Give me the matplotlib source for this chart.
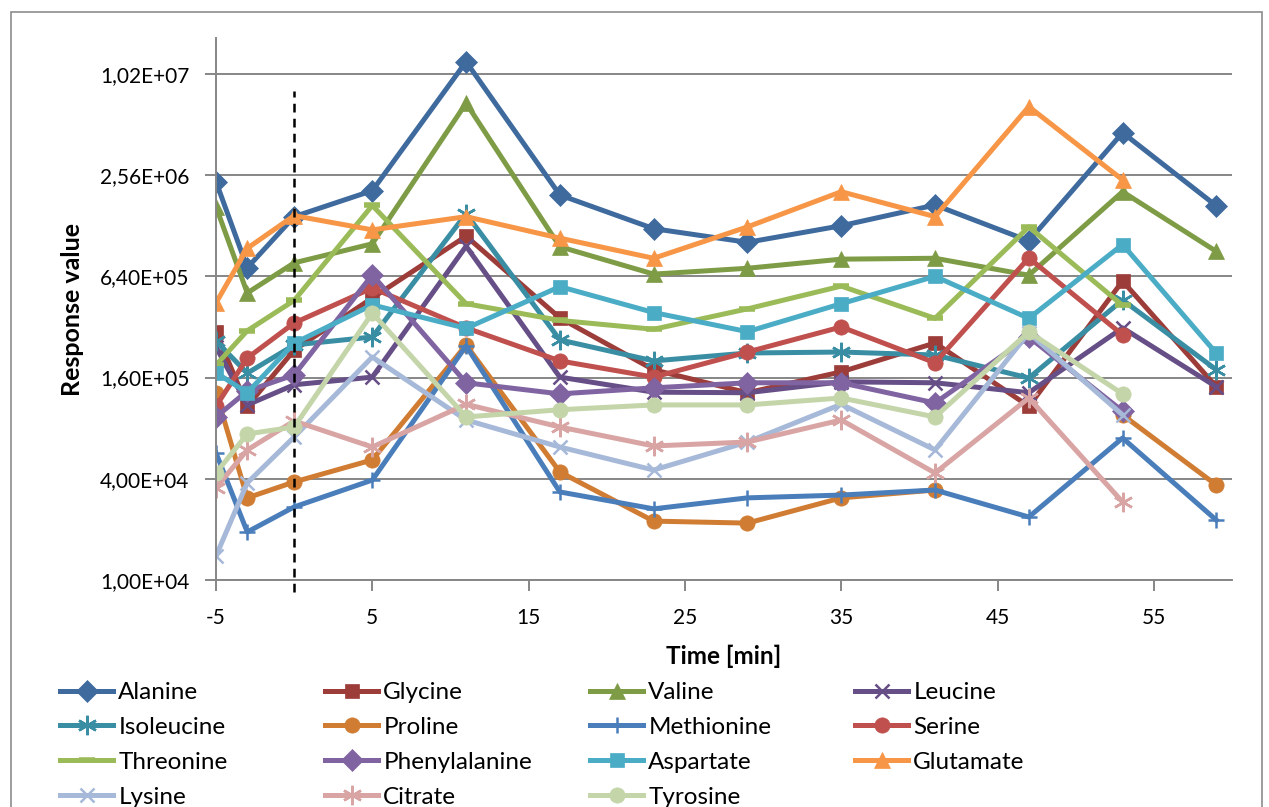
import numpy as np
import matplotlib
matplotlib.use('Agg')
import matplotlib.pyplot as plt
from matplotlib.ticker import FixedLocator, FuncFormatter
from matplotlib.patches import Rectangle
import matplotlib.transforms as mtransforms

plt.rcParams['font.family'] = ['Lato', 'DejaVu Sans']
plt.rcParams['axes.unicode_minus'] = False

# time points [min]
time = [-5, -3, 0, 5, 11, 17, 23, 29, 35, 41, 47, 53, 59]
nan = np.nan

# response values
alanine      = [2.34e6, 7.2e5, 1.45e6, 2.07e6, 1.21e7, 1.95e6, 1.23e6, 1.02e6, 1.28e6, 1.70e6, 1.04e6, 4.58e6, 1.68e6]
glycine      = [2.99e5, 1.08e5, 2.33e5, 4.76e5, 1.11e6, 3.62e5, 1.78e5, 1.30e5, 1.73e5, 2.57e5, 1.08e5, 6.0e5, 1.41e5]
valine       = [1.66e6, 5.1e5, 7.7e5, 1.0e6, 6.86e6, 9.6e5, 6.6e5, 7.15e5, 8.1e5, 8.2e5, 6.5e5, 2.04e6, 9.0e5]
leucine      = [2.43e5, 1.10e5, 1.45e5, 1.61e5, 9.67e5, 1.61e5, 1.31e5, 1.30e5, 1.51e5, 1.49e5, 1.30e5, 3.16e5, 1.41e5]
isoleucine   = [2.64e5, 1.70e5, 2.50e5, 2.79e5, 1.51e6, 2.68e5, 2.01e5, 2.24e5, 2.27e5, 2.18e5, 1.59e5, 4.63e5, 1.78e5]
proline      = [1.30e5, 3.08e4, 3.83e4, 5.18e4, 2.50e5, 4.39e4, 2.24e4, 2.18e4, 3.08e4, 3.43e4, nan, 9.6e4, 3.67e4]
methionine   = [5.70e4, 1.93e4, 2.72e4, 3.93e4, 2.47e5, 3.34e4, 2.65e4, 3.08e4, 3.20e4, 3.43e4, 2.37e4, 6.99e4, 2.27e4]
serine       = [1.08e5, 2.09e5, 3.38e5, 5.46e5, 3.16e5, 2.01e5, 1.61e5, 2.27e5, 3.20e5, 1.96e5, 8.24e5, 2.87e5, nan]
threonine    = [1.9e5, 3.04e5, 4.6e5, 1.69e6, 4.4e5, 3.5e5, 3.1e5, 4.1e5, 5.6e5, 3.6e5, 1.26e6, 4.3e5, nan]
phenylalanine= [9.33e4, 1.33e5, 1.66e5, 6.53e5, 1.49e5, 1.28e5, 1.39e5, 1.49e5, 1.49e5, 1.13e5, 2.79e5, 1.01e5, nan]
aspartate    = [1.71e5, 1.30e5, 2.56e5, 4.33e5, 3.14e5, 5.56e5, 3.9e5, 3.0e5, 4.4e5, 6.4e5, 3.6e5, 9.9e5, 2.23e5]
glutamate    = [4.45e5, 9.4e5, 1.47e6, 1.21e6, 1.45e6, 1.08e6, 8.2e5, 1.26e6, 2.04e6, 1.45e6, 6.54e6, 2.4e6, nan]
lysine       = [1.39e4, 3.78e4, 7.09e4, 2.12e5, 8.95e4, 6.18e4, 4.51e4, 6.62e4, 1.11e5, 5.94e4, 2.95e5, 9.6e4, nan]
citrate      = [3.53e4, 5.94e4, 8.83e4, 6.18e4, 1.11e5, 8.13e4, 6.27e4, 6.62e4, 8.95e4, 4.33e4, 1.21e5, 2.91e4, nan]
tyrosine     = [4.33e4, 7.39e4, 8.13e4, 3.87e5, 9.33e4, 1.03e5, 1.10e5, 1.10e5, 1.21e5, 9.33e4, 2.99e5, 1.28e5, nan]

names = ['Alanine', 'Glycine', 'Valine', 'Leucine', 'Isoleucine', 'Proline', 'Methionine', 'Serine',
         'Threonine', 'Phenylalanine', 'Aspartate', 'Glutamate', 'Lysine', 'Citrate', 'Tyrosine']
series = [alanine, glycine, valine, leucine, isoleucine, proline, methionine, serine,
          threonine, phenylalanine, aspartate, glutamate, lysine, citrate, tyrosine]

y_ticks = [1.0e4, 4.0e4, 1.6e5, 6.4e5, 2.56e6, 1.024e7]
x_ticks = [-5, 5, 15, 25, 35, 45, 55]

colors = ['#3E6A9E', '#9D3D3A', '#7E9B45', '#664E86', '#3A8EA4', '#D07D33', '#4A7EBB', '#C0504D',
          '#9BBB59', '#8064A2', '#4BACC6', '#F79646', '#A7B9D8', '#D9A5A4', '#C4D5A9']
asterisk = (6, 2, 0)
markers = ['D', 's', '^', 'x', asterisk, 'o', '+', 'o', '_', 'D', 's', '^', 'x', asterisk, 'o']
msizes = {'D': 11.5, 's': 10.5, '^': 11.5, 'x': 10.5, 'o': 11, '+': 12, '_': 11}

W, H = 1269, 807
fig = plt.figure(figsize=(W / 100, H / 100), dpi=100)
# chart border
fig.patches.append(Rectangle((11 / W, -0.05), (1262 - 11) / W, 1 - 12 / H + 0.05, transform=fig.transFigure,
                             fill=False, edgecolor='#8C8C8C', linewidth=1.2))

ax = fig.add_axes([216 / W, 1 - 580 / H, (1232 - 216) / W, (580 - 38) / H])

for name, vals, c, m in zip(names, series, colors, markers):
    ms = msizes[m] if isinstance(m, str) else 14
    lined = m in ('x', '+', '_') or not isinstance(m, str)
    ax.plot(time, vals, color=c, lw=3.6, marker=m, ms=ms,
            markerfacecolor=c, markeredgecolor=c,
            markeredgewidth=(4 if m == '_' else 1.8) if lined else 0.5, label=name)

# dashed marker line at t = 0
trans = mtransforms.blended_transform_factory(ax.transData, ax.transAxes)
ax.plot([0, 0], [-0.022, 0.902], transform=trans, color='black', lw=1.8,
        linestyle=(0, (3.5, 2.5)), clip_on=False, zorder=20)

ax.set_yscale('log')
ax.set_ylim(1.0e4, 1.675e7)
ax.set_xlim(-5, 60)
ax.yaxis.set_major_locator(FixedLocator(y_ticks))
ax.yaxis.set_minor_locator(FixedLocator([]))
ax.yaxis.set_major_formatter(FuncFormatter(lambda v, p: ('%.2E' % v).replace('.', ',')))
ax.xaxis.set_major_locator(FixedLocator(x_ticks))

ax.grid(axis='y', color='#868686', lw=1.4)
ax.set_axisbelow(True)
for s in ['top', 'right']:
    ax.spines[s].set_visible(False)
for s in ['left', 'bottom']:
    ax.spines[s].set_color('#868686')
    ax.spines[s].set_linewidth(1.4)
ax.tick_params(axis='both', colors='#868686', labelcolor='black', labelsize=15, length=8, width=1.4)
ax.tick_params(axis='y', pad=11)
ax.tick_params(axis='x', pad=12)

ax.set_xlabel('Time [min]', fontsize=17.5, fontweight='bold', labelpad=12)
ax.set_ylabel('Response value', fontsize=18, fontweight='bold', labelpad=12)

# legend, 4 columns laid out like the original
handles, labels = ax.get_legend_handles_labels()
col_x = [60, 325, 590, 855]
for j in range(4):
    leg = fig.legend(handles[j::4], labels[j::4], loc='upper left',
                     bbox_to_anchor=(col_x[j] / W, 1 - 682 / H), frameon=False,
                     fontsize=17.5, handlelength=2.2, handletextpad=0.2, labelspacing=0.57,
                     borderpad=0, borderaxespad=0)

fig.savefig('out.png', dpi=100)
